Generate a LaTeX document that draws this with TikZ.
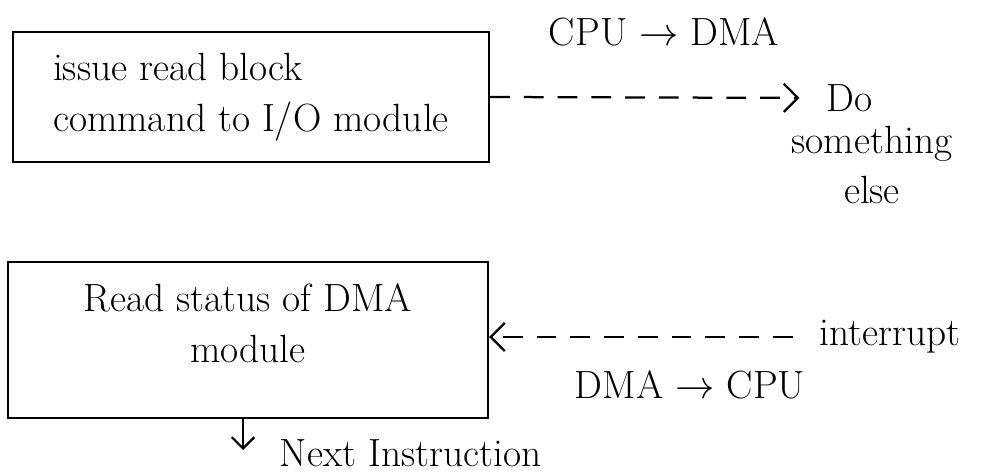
\RequirePackage{fix-cm}
\documentclass[tikz,border=0pt]{standalone}
\usetikzlibrary{arrows.meta,positioning}

\tikzset{
  stepbox/.style={draw, line width=1.6pt, inner sep=0pt},
  hand/.style={font=\fontsize{28}{36}\selectfont},
  dasharrow/.style={line width=1.6pt, dash pattern=on 14pt off 10pt,
    -{Straight Barb[length=10pt,width=20pt]}},
}

\begin{document}
\begin{tikzpicture}[x=0.025cm,y=-0.025cm]
    \useasboundingbox (0,0) rectangle (1002,472);

    % CPU issues the command
    \node[stepbox, hand, minimum width=11.9cm, minimum height=3.25cm, align=left] (issue) at (251,97) {issue read block\\command to I/O module};
    \node[hand] (cpudma) at (664,32) {CPU $\rightarrow$ DMA};
    \node[hand, anchor=west] (do) at (822,98) {Do};
    \node[hand, align=center] (else) at (872,165) {something\\else};
    \draw[dasharrow, shorten >=16pt] (issue.east) -- (do.west);

    % DMA interrupts the CPU
    \node[stepbox, hand, minimum width=12cm, minimum height=3.9cm, align=center, text depth=0.85cm] (status) at (248,340) {Read status of DMA\\module};
    \node[hand, anchor=west] (intr) at (815,337) {interrupt};
    \node[hand] (dmacpu) at (690,385) {DMA $\rightarrow$ CPU};
    \draw[dasharrow, shorten <=16pt] (intr.west) -- (status.east |- intr.west);

    % go on
    \coordinate (nextin) at (243,450);
    \draw[line width=1.6pt, -{Straight Barb[length=8pt,width=16pt]}] (status.south -| nextin) -- (nextin);
    \node[hand, anchor=west] (next) at (275,453) {Next Instruction};

\end{tikzpicture}
\end{document}
